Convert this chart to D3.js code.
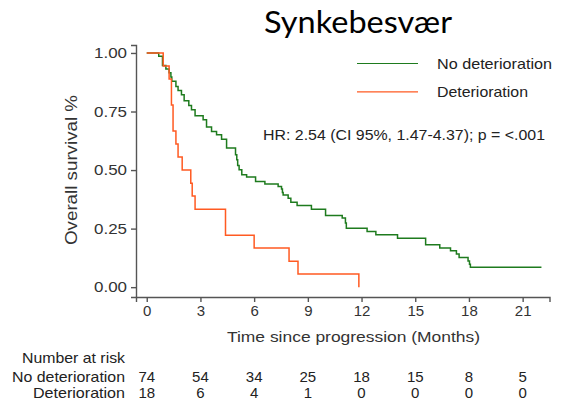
<!DOCTYPE html>
<html>
<head>
<meta charset="utf-8">
<script src="https://cdn.jsdelivr.net/npm/d3@7"></script>
<style>
  body { margin: 0; background: #fff; }
  text { font-family: "Liberation Sans", Arial, sans-serif; }
</style>
</head>
<body>
<div id="chart"></div>
<script>
const width = 562;
const height = 404;

// Kaplan-Meier steps: time of drop (months) and survival after it
const noDetTimes = [0, 0.67, 0.88, 1.07, 1.25, 1.35, 1.40, 1.63, 1.75, 1.94, 2.09, 2.35, 2.50, 2.70,
	3.15, 3.34, 3.62, 3.90, 4.18, 4.46, 4.96, 5.03, 5.08, 5.16, 5.31, 5.58, 6.08, 6.60,
	7.34, 7.53, 7.58, 7.62, 7.90, 8.05, 8.40, 9.20, 9.99, 10.92, 11.10, 11.15, 12.31, 12.80,
	14.01, 15.58, 16.37, 16.97, 17.30, 17.45, 17.95, 18.03, 18.08, 22.05];
const noDetSurv = [1, 0.986, 0.947, 0.932, 0.915, 0.897, 0.879, 0.857, 0.840, 0.822, 0.796, 0.776, 0.758, 0.732,
	0.715, 0.684, 0.665, 0.651, 0.632, 0.594, 0.565, 0.544, 0.520, 0.501, 0.480, 0.470, 0.451, 0.441,
	0.430, 0.419, 0.404, 0.394, 0.380, 0.363, 0.349, 0.333, 0.306, 0.295, 0.274, 0.252, 0.238, 0.224,
	0.209, 0.181, 0.167, 0.155, 0.142, 0.127, 0.112, 0.098, 0.085, 0.085];

const detTimes = [0, 0.92, 1.25, 1.38, 1.47, 1.63, 1.75, 1.98, 2.46, 2.54, 2.70, 4.40, 6.00, 7.95, 8.45, 11.85];
const detSurv = [1, 0.944, 0.889, 0.778, 0.667, 0.611, 0.556, 0.500, 0.444, 0.389, 0.333, 0.222, 0.167, 0.111, 0.056, 0];

const xTicks = [0, 3, 6, 9, 12, 15, 18, 21];
const yTicks = [0, 0.25, 0.5, 0.75, 1];
const riskNoDet = [74, 54, 34, 25, 18, 15, 8, 5];
const riskDet = [18, 6, 4, 1, 0, 0, 0, 0];

const seriesNames = ["No deterioration", "Deterioration"];
const colors = ["#1e7b1e", "#ff5a22"];

// reference text is a bit wider than the plain font, so fit some widths
const legendWidths = [115, 91];
const riskLabelWidths = [113, 92];

var svg = d3.select("#chart")
	.append("svg")
	.attr("width", width)
	.attr("height", height);

var x = d3.scaleLinear().domain([-0.6, 22.5]).range([136, 549.5]);
var y = d3.scaleLinear().domain([-0.042, 1.034]).range([297, 45]);

// title
svg.append("text")
	.attr("x", 264)
	.attr("y", 33)
	.attr("textLength", 188)
	.attr("lengthAdjust", "spacingAndGlyphs")
	.style("font-family", "Lato, 'Open Sans', sans-serif")
	.style("font-size", "31px")
	.attr("fill", "#000")
	.text("Synkebesvær");

// axes
var xAxis = svg.append("g")
	.attr("transform", "translate(0,297)")
	.call(d3.axisBottom(x).tickValues(xTicks).tickFormat(d3.format("d")).tickSizeOuter(0).tickSize(5).tickPadding(3));

var yAxis = svg.append("g")
	.attr("transform", "translate(136,0)")
	.call(d3.axisLeft(y).tickValues(yTicks).tickFormat(d3.format(".2f")).tickSizeOuter(0).tickSize(5).tickPadding(4));

svg.selectAll(".domain, .tick line")
	.attr("stroke", "#555")
	.attr("stroke-width", 1.4);

svg.selectAll(".tick text")
	.attr("fill", "#333")
	.style("font-family", "'Liberation Sans', Arial, sans-serif")
	.style("font-size", "15px");

yAxis.selectAll(".tick text")
	.attr("textLength", 33)
	.attr("lengthAdjust", "spacingAndGlyphs");

// axis titles
svg.append("text")
	.attr("x", 227)
	.attr("y", 342)
	.attr("textLength", 253)
	.attr("lengthAdjust", "spacingAndGlyphs")
	.attr("fill", "#333")
	.style("font-size", "15.5px")
	.text("Time since progression (Months)");

svg.append("text")
	.attr("transform", "translate(77,245) rotate(-90)")
	.attr("textLength", 150)
	.attr("lengthAdjust", "spacingAndGlyphs")
	.attr("fill", "#333")
	.style("font-size", "16px")
	.text("Overall survival %");

// curves
var line = d3.line()
	.x((d) => x(d[0]))
	.y((d) => y(d[1]))
	.curve(d3.curveStepAfter);

var noDetData = noDetTimes.map((t, i) => [t, noDetSurv[i]]);
var detData = detTimes.map((t, i) => [t, detSurv[i]]);

svg.append("path")
	.datum(noDetData)
	.attr("d", line)
	.attr("fill", "none")
	.attr("stroke", colors[0])
	.attr("stroke-width", 1.5);

svg.append("path")
	.datum(detData)
	.attr("d", line)
	.attr("fill", "none")
	.attr("stroke", colors[1])
	.attr("stroke-width", 1.5);

// legend
var legend = svg.selectAll(".legend")
	.data(seriesNames)
	.enter()
	.append("g")
	.attr("class", "legend")
	.attr("transform", (d, i) => `translate(0, ${63.5 + i * 28.3})`);

legend.append("line")
	.attr("x1", 357)
	.attr("x2", 418)
	.attr("stroke", (d, i) => colors[i])
	.attr("stroke-width", 1.2);

legend.append("text")
	.attr("x", 437)
	.attr("y", 5)
	.attr("textLength", (d, i) => legendWidths[i])
	.attr("lengthAdjust", "spacingAndGlyphs")
	.attr("fill", "#222")
	.style("font-size", "14.5px")
	.text((d) => d);

svg.append("text")
	.attr("x", 263)
	.attr("y", 140)
	.attr("textLength", 282)
	.attr("lengthAdjust", "spacingAndGlyphs")
	.attr("fill", "#222")
	.style("font-size", "14.5px")
	.text("HR: 2.54 (CI 95%, 1.47-4.37); p = <.001");

// risk table
svg.append("text")
	.attr("x", 22)
	.attr("y", 363)
	.attr("textLength", 103)
	.attr("lengthAdjust", "spacingAndGlyphs")
	.attr("fill", "#222")
	.style("font-size", "14.5px")
	.text("Number at risk");

var rows = [riskNoDet, riskDet];
rows.forEach((row, r) => {
	var yy = 381.5 + r * 16.5;
	svg.append("text")
		.attr("x", 125 - riskLabelWidths[r])
		.attr("y", yy)
		.attr("textLength", riskLabelWidths[r])
		.attr("lengthAdjust", "spacingAndGlyphs")
		.attr("fill", "#222")
		.style("font-size", "14.5px")
		.text(seriesNames[r]);

	svg.selectAll(".risk" + r)
		.data(row)
		.enter()
		.append("text")
		.attr("class", "risk" + r)
		.attr("x", (d, i) => x(xTicks[i]))
		.attr("y", yy)
		.attr("text-anchor", "middle")
		.attr("fill", "#222")
		.style("font-size", "15px")
		.text((d) => d);
});
</script>
</body>
</html>
